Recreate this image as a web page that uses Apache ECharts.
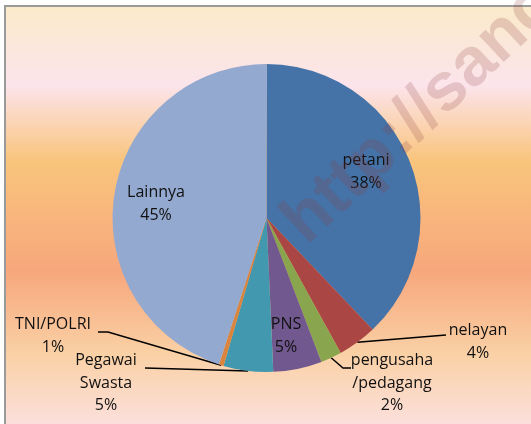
<!DOCTYPE html>
<html>
<head>
<meta charset="utf-8">
<script src="https://cdn.jsdelivr.net/npm/echarts@6/dist/echarts.min.js"></script>
<style>
  html, body { margin: 0; padding: 0; background: #fff; }
  #chart { width: 531px; height: 424px; }
</style>
</head>
<body>
<div id="chart"></div>
<script>
// data (share of each group, clockwise from 12 o'clock)
const jobs = ["petani", "nelayan", "pengusaha/pedagang", "PNS", "Pegawai Swasta", "TNI/POLRI", "Lainnya"];
const shares = [37.9, 4.1, 2.2, 5.1, 5.2, 0.5, 45.0];
const sliceColors = ["#4572A7", "#AA4643", "#89A54E", "#71588F", "#4198AF", "#DB843D", "#93A9CF"];

// how the long names wrap in the labels
const wrapped = {
  "pengusaha/pedagang": "pengusaha\n/pedagang",
  "Pegawai Swasta": "Pegawai\nSwasta",
};

// where each label sits, and the bend of its leader line (null = inside label)
const labelSpots = [
  { x: 366, y: 172, line: null },
  { x: 478, y: 342, line: [[446, 335]] },
  { x: 392, y: 383, line: [[343, 368], [351, 368]] },
  { x: 286, y: 336, line: null },
  { x: 106, y: 383, line: [[145, 368]] },
  { x: 53, y: 336, line: [[108, 332], [98, 332]] },
  { x: 156, y: 204, line: null },
];

const chart = echarts.init(document.getElementById("chart"));

const option = {
  animation: false,
  backgroundColor: "#fff",
  graphic: [
    {
      type: "rect",
      z: -10,
      silent: true,
      shape: { x: 5, y: 6, width: 540, height: 420 },
      style: {
        fill: new echarts.graphic.LinearGradient(0, 0, 0, 1, [
          { offset: 0, color: "#FBEAC9" },
          { offset: 0.19, color: "#FCE4EC" },
          { offset: 0.37, color: "#F9C47C" },
          { offset: 0.63, color: "#F7A77C" },
          { offset: 0.83, color: "#FAD1A6" },
          { offset: 1, color: "#FCE0DE" },
        ]),
        stroke: "#9a9a9a",
        lineWidth: 2,
      },
    },
    {
      // watermark over the chart
      type: "text",
      z: 100,
      silent: true,
      x: 294,
      y: 232,
      rotation: (43 * Math.PI) / 180,
      style: {
        text: "http://sang",
        font: 'bold 68px "Liberation Sans", Arial, sans-serif',
        fill: "rgba(140, 60, 60, 0.2)",
        align: "left",
        verticalAlign: "middle",
      },
    },
  ],
  series: [
    {
      type: "pie",
      center: [266.5, 218],
      radius: 154,
      startAngle: 90,
      clockwise: true,
      avoidLabelOverlap: false,
      itemStyle: { borderWidth: 0 },
      label: {
        show: true,
        position: "outside",
        color: "#111",
        fontFamily: '"Open Sans", sans-serif',
        fontSize: 16,
        lineHeight: 22.5,
        align: "center",
        formatter: (p) => `${wrapped[p.name] || p.name}\n${Math.round(p.percent)}%`,
      },
      labelLine: {
        show: true,
        length: 10,
        length2: 10,
        lineStyle: { color: "#000", width: 1.5 },
      },
      labelLayout: (params) => {
        const spot = labelSpots[params.dataIndex];
        const out = { x: spot.x, y: spot.y, align: "center", verticalAlign: "middle" };
        if (spot.line && params.labelLinePoints) {
          const pts = [params.labelLinePoints[0]].concat(spot.line);
          if (pts.length < 3) pts.push(pts[pts.length - 1]);
          out.labelLinePoints = pts;
        }
        return out;
      },
      emphasis: { disabled: true },
      data: jobs.map((name, i) => ({
        name,
        value: shares[i],
        itemStyle: { color: sliceColors[i] },
        labelLine: { show: labelSpots[i].line !== null },
      })),
    },
  ],
};

chart.setOption(option);
</script>
</body>
</html>
